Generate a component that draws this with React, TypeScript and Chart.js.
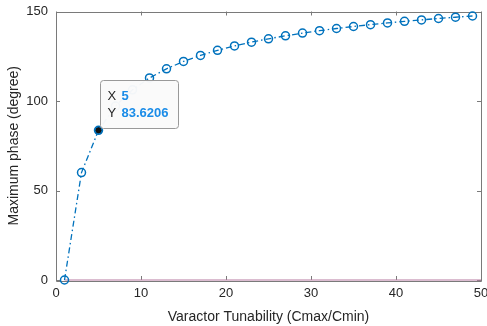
import React, { useEffect, useRef } from "react";
import { Chart, registerables } from "chart.js";

Chart.register(...registerables);

const tunability = [1, 3, 5, 7, 9, 11, 13, 15, 17, 19, 21, 23, 25, 27, 29, 31, 33, 35, 37, 39, 41, 43, 45, 47, 49];
const maxPhase = [0, 60.0, 83.62, 97.18, 106.26, 112.89, 117.98, 122.09, 125.46, 128.32, 130.76, 132.89, 134.76, 136.42, 137.92, 139.27, 140.5, 141.62, 142.66, 143.61, 144.5, 145.32, 146.09, 146.8, 147.48];
const baselineX = [1, 50];
const baselineY = [0, 0];
const xTicks = [0, 10, 20, 30, 40, 50];
const yTicks = [0, 50, 100, 150];
const tipX = 5;
const tipY = 83.6206;
const tipLabelX = "5";
const tipLabelY = "83.6206";

const FONT = "'Liberation Sans', Arial, Helvetica, sans-serif";

const framePlugin = {
  id: "frame",
  beforeDatasetsDraw(chart: any) {
    const { ctx, chartArea: a, scales } = chart;
    const xs = scales.x;
    const ys = scales.y;
    ctx.save();
    ctx.strokeStyle = "#7a7a7a";
    ctx.lineWidth = 1;
    ctx.beginPath();
    ctx.rect(Math.round(a.left) + 0.5, Math.round(a.top) + 0.5, Math.round(a.right - a.left), Math.round(a.bottom - a.top));
    ctx.stroke();
    const tl = 4;
    ctx.beginPath();
    xTicks.forEach((v) => {
      const px = Math.round(xs.getPixelForValue(v)) + 0.5;
      ctx.moveTo(px, a.bottom);
      ctx.lineTo(px, a.bottom - tl);
      ctx.moveTo(px, a.top);
      ctx.lineTo(px, a.top + tl);
    });
    yTicks.forEach((v) => {
      const py = Math.round(ys.getPixelForValue(v)) + 0.5;
      ctx.moveTo(a.left, py);
      ctx.lineTo(a.left + tl, py);
      ctx.moveTo(a.right, py);
      ctx.lineTo(a.right - tl, py);
    });
    ctx.stroke();
    ctx.restore();
  },
  afterDatasetsDraw(chart: any) {
    const { ctx, scales } = chart;
    const xs = scales.x;
    const ys = scales.y;
    ctx.save();
    // data tip
    const px = xs.getPixelForValue(tipX);
    const py = ys.getPixelForValue(tipY);
    ctx.beginPath();
    ctx.arc(px, py, 3.5, 0, Math.PI * 2);
    ctx.fillStyle = "#111";
    ctx.fill();
    ctx.lineWidth = 1;
    ctx.strokeStyle = "#0072BD";
    ctx.stroke();

    const bx = Math.round(px + 1.5) + 0.5;
    const bw = 78;
    const bh = 48;
    const by = Math.round(py - bh - 2) + 0.5;
    const r = 3;
    ctx.beginPath();
    ctx.moveTo(bx + r, by);
    ctx.lineTo(bx + bw - r, by);
    ctx.quadraticCurveTo(bx + bw, by, bx + bw, by + r);
    ctx.lineTo(bx + bw, by + bh - r);
    ctx.quadraticCurveTo(bx + bw, by + bh, bx + bw - r, by + bh);
    ctx.lineTo(bx + r, by + bh);
    ctx.quadraticCurveTo(bx, by + bh, bx, by + bh - r);
    ctx.lineTo(bx, by + r);
    ctx.quadraticCurveTo(bx, by, bx + r, by);
    ctx.closePath();
    ctx.fillStyle = "rgba(250,250,250,0.97)";
    ctx.fill();
    ctx.strokeStyle = "#999";
    ctx.lineWidth = 1;
    ctx.stroke();

    ctx.textBaseline = "middle";
    ctx.textAlign = "left";
    ctx.font = `13px ${FONT}`;
    ctx.fillStyle = "#262626";
    ctx.fillText("X", bx + 7, by + 16);
    ctx.fillText("Y", bx + 7, by + 33);
    ctx.font = `bold 13px ${FONT}`;
    ctx.fillStyle = "#1a8ce8";
    ctx.fillText(tipLabelX, bx + 21, by + 16);
    ctx.fillText(tipLabelY, bx + 21, by + 33);
    ctx.restore();
  },
};

export default function App() {
  const ref = useRef<HTMLCanvasElement | null>(null);
  useEffect(() => {
    document.body.style.margin = "0";
    const canvas = ref.current!;
    const chart = new Chart(canvas, {
      type: "line",
      data: {
        datasets: [
          {
            data: baselineX.map((x, i) => ({ x, y: baselineY[i] })),
            borderColor: "#b87aa2",
            borderWidth: 1.2,
            pointRadius: 0,
            clip: false as any,
            order: 2,
          },
          {
            data: tunability.map((x, i) => ({ x, y: maxPhase[i] })),
            borderColor: "#0072BD",
            borderWidth: 1.3,
            borderDash: [6, 3, 1.5, 3],
            pointStyle: "circle",
            pointRadius: 4,
            pointBorderWidth: 1.5,
            pointBorderColor: "#0072BD",
            pointBackgroundColor: "rgba(0,0,0,0)",
            clip: false as any,
            order: 1,
          },
        ],
      },
      options: {
        animation: false,
        responsive: false,
        maintainAspectRatio: false,
        layout: { padding: { top: 11.5, right: 6, left: 0, bottom: 0 } },
        plugins: { legend: { display: false }, tooltip: { enabled: false } },
        scales: {
          x: {
            type: "linear",
            min: 0,
            max: 50,
            grid: { display: false, drawTicks: false },
            border: { display: false },
            ticks: {
              stepSize: 10,
              color: "#262626",
              font: { family: FONT, size: 13 },
              padding: 6,
              maxRotation: 0,
            },
            title: {
              display: true,
              text: "Varactor Tunability (Cmax/Cmin)",
              color: "#262626",
              font: { family: FONT, size: 14 },
              padding: { top: 1, bottom: 0 },
            },
            afterFit: (s: any) => {
              s.height = 46;
              s.paddingLeft = 0;
              s.paddingRight = 0;
            },
          },
          y: {
            type: "linear",
            min: 0,
            max: 150,
            grid: { display: false, drawTicks: false },
            border: { display: false },
            ticks: {
              stepSize: 50,
              color: "#262626",
              font: { family: FONT, size: 13 },
              padding: 8,
            },
            title: {
              display: true,
              text: "Maximum phase (degree)",
              color: "#262626",
              font: { family: FONT, size: 14 },
              padding: { top: 6, bottom: 2 },
            },
            afterFit: (s: any) => {
              s.width = 56;
              s.paddingTop = 0;
              s.paddingBottom = 0;
            },
          },
        },
      },
      plugins: [framePlugin],
    });
    return () => chart.destroy();
  }, []);
  return (
    <div style={{ width: 487, height: 326, background: "#fff" }}>
      <canvas ref={ref} width={487} height={326} style={{ display: "block" }} />
    </div>
  );
}
